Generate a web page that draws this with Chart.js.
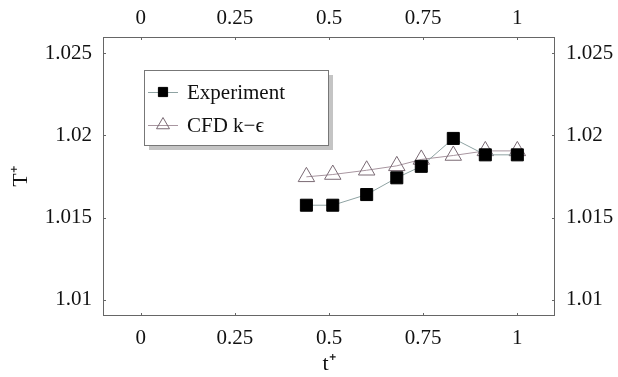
<!DOCTYPE html>
<html>
<head>
<meta charset="utf-8">
<script src="https://cdn.jsdelivr.net/npm/chart.js@4"></script>
<style>
    html, body { margin: 0; padding: 0; background: #fff; }
    #wrap { width: 618px; height: 377px; }
</style>
</head>
<body>
<div id="wrap"><canvas id="chart" width="618" height="377"></canvas></div>
<script>
// Data
const tValues = [0.44, 0.51, 0.6, 0.68, 0.745, 0.83, 0.915, 1.0];
const experiment = [1.01575, 1.01575, 1.0164, 1.01742, 1.01812, 1.01982, 1.01882, 1.01882];
const cfd = [1.01748, 1.01762, 1.01788, 1.01815, 1.01854, 1.01878, 1.01906, 1.01906];
const xTicks = [0, 0.25, 0.5, 0.75, 1];
const yTicks = [1.01, 1.015, 1.02, 1.025];
const seriesNames = ['Experiment', 'CFD k\u2212\u03F5'];

const FAMILY = "'Liberation Serif', 'Times New Roman', serif";
const FONT = { family: FAMILY, size: 21 };
const TITLE_FONT = { family: FAMILY, size: 22 };
const TEXT = '#111';

function toPoints(ys) {
    return tValues.map((t, i) => ({ x: t, y: ys[i] }));
}

/**
 * Fixed-size axis boxes so the plot area lands where the reference has it
 */
function fixSize(size) {
    return function(scale) {
        if (scale.isHorizontal()) scale.height = size;
        else scale.width = size;
    };
}

function xAxis(position, size, title) {
    return {
        type: 'linear',
        position: position,
        min: -0.1,
        max: 1.1,
        afterBuildTicks: (s) => { s.ticks = xTicks.map(v => ({ value: v })); },
        afterFit: fixSize(size),
        grid: { display: false, drawTicks: false },
        border: { display: false },
        ticks: { font: FONT, color: TEXT, padding: position === 'bottom' ? 10 : 6, maxRotation: 0,
                 callback: (v) => String(v) },
        title: title ? { display: true, text: title, font: TITLE_FONT, color: TEXT, padding: 0 } : { display: false }
    };
}

function yAxis(position, size, title) {
    return {
        type: 'linear',
        position: position,
        min: 1.009,
        max: 1.026,
        afterBuildTicks: (s) => { s.ticks = yTicks.map(v => ({ value: v })); },
        afterFit: fixSize(size),
        grid: { display: false, drawTicks: false },
        border: { display: false },
        ticks: { font: FONT, color: TEXT, padding: 11, callback: (v) => String(v) },
        title: title ? { display: true, text: title, font: TITLE_FONT, color: TEXT, padding: { top: 8 } } : { display: false }
    };
}

// frame + small inward ticks
const framePlugin = {
    id: 'frame',
    afterDraw(chart) {
        const { ctx, chartArea: a, scales } = chart;
        ctx.save();
        ctx.strokeStyle = '#666';
        ctx.lineWidth = 1;
        ctx.strokeRect(a.left + 0.5, a.top + 0.5, a.right - a.left - 1, a.bottom - a.top - 1);
        ctx.beginPath();
        xTicks.forEach(v => {
            const px = Math.round(scales.x.getPixelForValue(v)) + 0.5;
            ctx.moveTo(px, a.bottom); ctx.lineTo(px, a.bottom - 3);
            ctx.moveTo(px, a.top); ctx.lineTo(px, a.top + 3);
        });
        yTicks.forEach(v => {
            const py = Math.round(scales.y.getPixelForValue(v)) + 0.5;
            ctx.moveTo(a.left, py); ctx.lineTo(a.left + 3, py);
            ctx.moveTo(a.right, py); ctx.lineTo(a.right - 3, py);
        });
        ctx.stroke();
        ctx.restore();
    }
};

// boxed legend with drop shadow, drawn inside the plot
const legendPlugin = {
    id: 'boxLegend',
    afterDraw(chart) {
        const { ctx } = chart;
        const box = { x: 144, y: 70, w: 184, h: 75 };
        ctx.save();
        ctx.fillStyle = '#c4c4c4';
        ctx.fillRect(box.x + 5, box.y + 5, box.w, box.h);
        ctx.fillStyle = '#fff';
        ctx.fillRect(box.x, box.y, box.w, box.h);
        ctx.strokeStyle = '#777';
        ctx.lineWidth = 1;
        ctx.strokeRect(box.x + 0.5, box.y + 0.5, box.w, box.h);

        chart.data.datasets.forEach((ds, i) => {
            const cy = box.y + 22 + i * 33;
            ctx.strokeStyle = ds.borderColor;
            ctx.lineWidth = 1;
            ctx.beginPath();
            ctx.moveTo(148, cy + 0.5);
            ctx.lineTo(178, cy + 0.5);
            ctx.stroke();
            ctx.fillStyle = ds.pointBackgroundColor;
            ctx.strokeStyle = ds.pointBorderColor;
            Chart.helpers.drawPoint(ctx, {
                pointStyle: ds.pointStyle,
                radius: ds.pointRadius - 2,
                borderWidth: 1
            }, 163, cy);
            ctx.fillStyle = TEXT;
            ctx.font = `${FONT.size}px ${FONT.family}`;
            ctx.textBaseline = 'middle';
            ctx.fillText(ds.label, 187, cy + 1);
        });
        ctx.restore();
    }
};

new Chart(document.getElementById('chart'), {
    type: 'line',
    data: {
        datasets: [
            {
                label: seriesNames[0],
                data: toPoints(experiment),
                borderColor: '#8fa3a3',
                borderWidth: 1,
                pointStyle: 'rect',
                pointRadius: 8.5,
                pointBackgroundColor: '#000',
                pointBorderColor: '#000',
                pointBorderWidth: 1,
                tension: 0
            },
            {
                label: seriesNames[1],
                data: toPoints(cfd),
                borderColor: '#a896a0',
                borderWidth: 1,
                pointStyle: 'triangle',
                pointRadius: 9.5,
                pointBackgroundColor: 'rgba(255,255,255,0)',
                pointBorderColor: '#7a6a74',
                pointBorderWidth: 1,
                tension: 0
            }
        ]
    },
    options: {
        responsive: false,
        animation: false,
        layout: { padding: 0 },
        plugins: { legend: { display: false }, tooltip: { enabled: false } },
        scales: {
            x: xAxis('bottom', 61, 't\u207A'),
            x2: xAxis('top', 37, null),
            y: yAxis('left', 103, 'T\u207A'),
            y2: yAxis('right', 63, null)
        }
    },
    plugins: [framePlugin, legendPlugin]
});
</script>
</body>
</html>
